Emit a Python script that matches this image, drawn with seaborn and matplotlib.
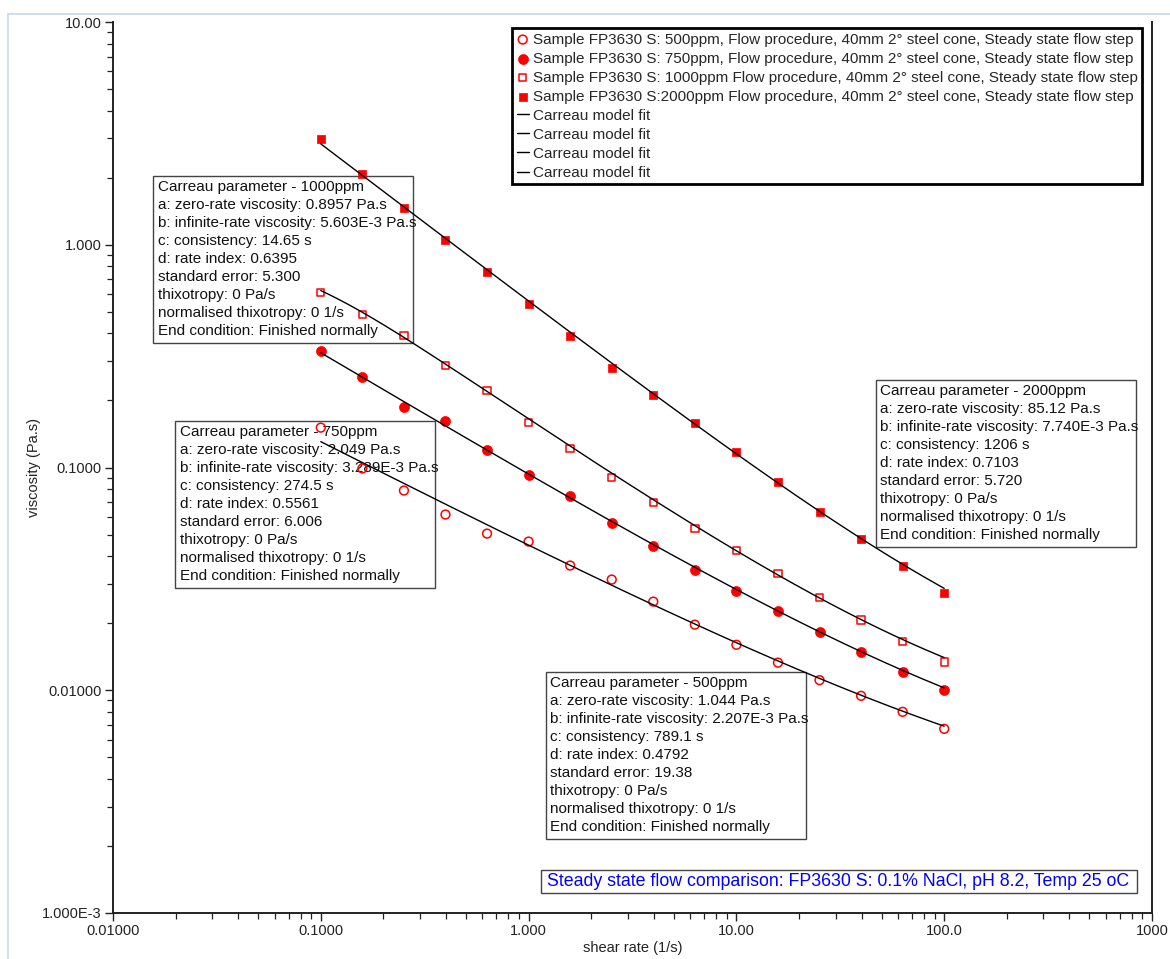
import numpy as np
import pandas as pd
import matplotlib
matplotlib.use("Agg")
import matplotlib.pyplot as plt
from matplotlib.lines import Line2D
from matplotlib.patches import Rectangle
from matplotlib.ticker import FixedLocator, LogLocator, NullFormatter
import seaborn as sns

# ---- data -------------------------------------------------------------
shear_rate = [0.1, 0.1585, 0.2512, 0.3981, 0.631, 1.0, 1.585, 2.512,
              3.981, 6.31, 10.0, 15.85, 25.12, 39.81, 63.1, 100.0]

visc_500 = [0.151, 0.0990, 0.0788, 0.0615, 0.0505, 0.0465, 0.0363, 0.0314,
            0.0250, 0.0197, 0.0160, 0.0133, 0.0111, 0.00944, 0.00800, 0.00671]
visc_750 = [0.332, 0.254, 0.186, 0.161, 0.120, 0.0921, 0.0741, 0.0566,
            0.0442, 0.0348, 0.0280, 0.0228, 0.0183, 0.0149, 0.0121, 0.01005]
visc_1000 = [0.612, 0.487, 0.392, 0.287, 0.222, 0.159, 0.122, 0.0902,
             0.0696, 0.0532, 0.0424, 0.0334, 0.0261, 0.0207, 0.0165, 0.0134]
visc_2000 = [2.98, 2.07, 1.46, 1.05, 0.752, 0.540, 0.388, 0.281,
             0.211, 0.159, 0.117, 0.0857, 0.0634, 0.0480, 0.0363, 0.0274]

concentrations = ["500ppm", "750ppm", "1000ppm", "2000ppm"]
series_labels = [
    "Sample FP3630 S: 500ppm, Flow procedure, 40mm 2° steel cone, Steady state flow step",
    "Sample FP3630 S: 750ppm, Flow procedure, 40mm 2° steel cone, Steady state flow step",
    "Sample FP3630 S: 1000ppm Flow procedure, 40mm 2° steel cone, Steady state flow step",
    "Sample FP3630 S:2000ppm Flow procedure, 40mm 2° steel cone, Steady state flow step",
]
fit_label = "Carreau model fit"

# Carreau fit parameters per concentration
zero_rate = [1.044, 2.049, 0.8957, 85.12]          # Pa.s
inf_rate = [2.207e-3, 3.289e-3, 5.603e-3, 7.740e-3]  # Pa.s
consistency = [789.1, 274.5, 14.65, 1206]           # s
rate_index = [0.4792, 0.5561, 0.6395, 0.7103]
std_error = ["19.38", "6.006", "5.300", "5.720"]
zero_rate_txt = ["1.044", "2.049", "0.8957", "85.12"]
inf_rate_txt = ["2.207E-3", "3.289E-3", "5.603E-3", "7.740E-3"]
consistency_txt = ["789.1", "274.5", "14.65", "1206"]
rate_index_txt = ["0.4792", "0.5561", "0.6395", "0.7103"]

x_ticks = [0.01, 0.1, 1, 10, 100, 1000]
x_tick_labels = ["0.01000", "0.1000", "1.000", "10.00", "100.0", "1000"]
y_ticks = [1e-3, 0.01, 0.1, 1, 10]
y_tick_labels = ["1.000E-3", "0.01000", "0.1000", "1.000", "10.00"]

subtitle = "Steady state flow comparison: FP3630 S: 0.1% NaCl, pH 8.2, Temp 25 oC"

# ---- styling ----------------------------------------------------------
sns.set_style("ticks")
plt.rcParams["font.family"] = ["Liberation Sans", "DejaVu Sans"]

W, H = 1170, 959
fig = plt.figure(figsize=(W / 100, H / 100), dpi=100)


def fx(px):
    return px / W


def fy(py):
    return 1 - py / H


ax_left, ax_right, ax_top, ax_bottom = 113, 1152, 22, 913
ax_w, ax_h = ax_right - ax_left, ax_bottom - ax_top
ax = fig.add_axes([fx(ax_left), fy(ax_bottom), ax_w / W, ax_h / H])

RED = "#FF0000"
visc_all = [visc_500, visc_750, visc_1000, visc_2000]
marker_styles = [
    dict(marker="o", s=40, facecolor="none", edgecolor=RED, linewidth=1.1),
    dict(marker="o", s=52, facecolor=RED, edgecolor=RED, linewidth=0.5),
    dict(marker="s", s=28, facecolor="none", edgecolor=RED, linewidth=1.1),
    dict(marker="s", s=32, facecolor=RED, edgecolor=RED, linewidth=0.5),
]

scatter_handles = []
for conc, visc, lab, st in zip(concentrations, visc_all, series_labels, marker_styles):
    df = pd.DataFrame({"shear rate": shear_rate, "viscosity": visc})
    sns.scatterplot(data=df, x="shear rate", y="viscosity", ax=ax,
                    label=lab, zorder=3, **st)
    scatter_handles.append(ax.collections[-1])

# Carreau model: eta = b + (a - b) / (1 + (c*rate)^2)^(d/2)
rate_fit = np.geomspace(shear_rate[0], shear_rate[-1], 300)
line_handles = []
for a, b, c, d in zip(zero_rate, inf_rate, consistency, rate_index):
    eta = b + (a - b) / (1 + (c * rate_fit) ** 2) ** (d / 2)
    fit_df = pd.DataFrame({"shear rate": rate_fit, "viscosity": eta})
    sns.lineplot(data=fit_df, x="shear rate", y="viscosity", ax=ax,
                 color="black", linewidth=1.0, label=fit_label, zorder=4,
                 estimator=None, sort=False)
    line_handles.append(ax.lines[-1])

ax.set_xscale("log")
ax.set_yscale("log")
ax.set_xlim(0.01, 1000)
ax.set_ylim(1e-3, 10)

ax.xaxis.set_major_locator(FixedLocator(x_ticks))
ax.set_xticklabels(x_tick_labels)
ax.yaxis.set_major_locator(FixedLocator(y_ticks))
ax.set_yticklabels(y_tick_labels)
for axis in (ax.xaxis, ax.yaxis):
    axis.set_minor_locator(LogLocator(base=10, subs=np.arange(2, 10), numticks=20))
    axis.set_minor_formatter(NullFormatter())

ax.tick_params(axis="both", which="major", direction="out", length=6,
               width=1.0, labelsize=10.5, colors="#222222", pad=2)
ax.tick_params(axis="both", which="minor", direction="out", length=4, width=0.9,
               colors="#222222")

ax.set_xlabel("shear rate (1/s)", fontsize=10.5, color="#222222")
ax.set_ylabel("viscosity (Pa.s)", fontsize=10.5, color="#222222")
ax.yaxis.set_label_coords((41 - ax_left) / ax_w, 0.5)
ax.xaxis.set_label_coords(0.5, -(941 - ax_bottom) / ax_h)

ax.spines["top"].set_visible(False)
for side in ("left", "bottom", "right"):
    ax.spines[side].set_linewidth(1.4)
    ax.spines[side].set_color("#222222")

# Legend
leg = ax.legend(handles=scatter_handles + line_handles,
                labels=series_labels + [fit_label] * 4,
                loc="upper left", bbox_to_anchor=(fx(512), fy(28)),
                bbox_transform=fig.transFigure, borderaxespad=0,
                fontsize=11, frameon=True, fancybox=False, framealpha=1,
                edgecolor="black", borderpad=0.3, labelspacing=0.33,
                handlelength=0.8, handletextpad=0.25, scatterpoints=1)
leg.get_frame().set_linewidth(2.0)
leg.set_zorder(6)

# Carreau parameter boxes (left, top in pixels)
box_pos = {"1000ppm": (153, 176), "750ppm": (175, 421),
           "2000ppm": (876, 380), "500ppm": (546, 672)}
box_w, box_h = 260, 167
for i, conc in enumerate(concentrations):
    left, top = box_pos[conc]
    lines = [
        f"Carreau parameter - {conc}",
        f"a: zero-rate viscosity: {zero_rate_txt[i]} Pa.s",
        f"b: infinite-rate viscosity: {inf_rate_txt[i]} Pa.s",
        f"c: consistency: {consistency_txt[i]} s",
        f"d: rate index: {rate_index_txt[i]}",
        f"standard error: {std_error[i]}",
        "thixotropy: 0 Pa/s",
        "normalised thixotropy: 0 1/s",
        "End condition: Finished normally",
    ]
    ax.add_patch(Rectangle((fx(left), fy(top + box_h)), box_w / W, box_h / H,
                           transform=fig.transFigure, fill=False,
                           edgecolor="#444444", linewidth=1.0, zorder=1,
                           clip_on=False))
    for j, line in enumerate(lines):
        ax.text(fx(left + 4.5), fy(top + 10.7 + 18.05 * j), line,
                transform=fig.transFigure, ha="left", va="center",
                fontsize=11, color="#111111", zorder=1, clip_on=False)

# Blue caption box
ax.add_patch(Rectangle((fx(541), fy(893)), (1137 - 541) / W, (893 - 870) / H,
                       transform=fig.transFigure, fill=False,
                       edgecolor="#444444", linewidth=1.0, zorder=1,
                       clip_on=False))
ax.text(fx(547), fy(881.5), subtitle, transform=fig.transFigure,
        ha="left", va="center", fontsize=12.8, color="#0000FF", zorder=1)

# Thin outer frame of the chart panel
frame_color = "#C6D9EC"
fig.add_artist(Line2D([fx(8), 1.0], [fy(14), fy(14)], color=frame_color,
                      linewidth=1.2, transform=fig.transFigure))
fig.add_artist(Line2D([fx(8), fx(8)], [fy(14), 0.0], color=frame_color,
                      linewidth=1.2, transform=fig.transFigure))

fig.savefig("out.png", dpi=100)
